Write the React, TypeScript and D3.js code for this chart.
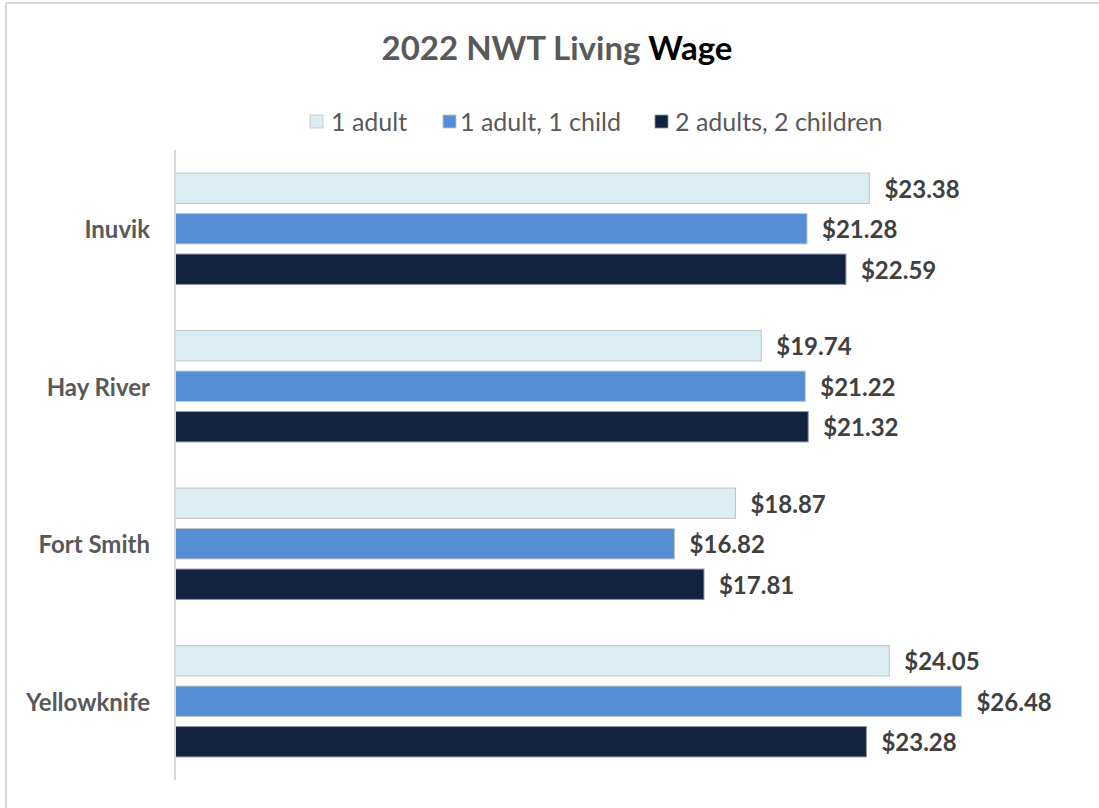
import React from "react";
import * as d3 from "d3";

const categories = ["Inuvik", "Hay River", "Fort Smith", "Yellowknife"];
const seriesNames = ["1 adult", "1 adult, 1 child", "2 adults, 2 children"];
const oneAdult = [23.38, 19.74, 18.87, 24.05];
const oneAdultOneChild = [21.28, 21.22, 16.82, 26.48];
const twoAdultsTwoChildren = [22.59, 21.32, 17.81, 23.28];
const seriesValues = [oneAdult, oneAdultOneChild, twoAdultsTwoChildren];
const colors = ["#daedf3", "#558ed5", "#12233f"];
const strokes = ["#c3c3c3", "#c3c3c3", "#8a93a3"];

const FONT = "Lato, 'Open Sans', sans-serif";

export default function App() {
  const W = 1099, H = 808;
  const y0 = d3.scaleBand<string>().domain(categories).range([150, 780]).paddingInner(0).paddingOuter(0);
  const y1 = d3.scaleBand<string>().domain(seriesNames).range([0, y0.bandwidth()]).paddingInner(0.25).paddingOuter(0.57);
  const x = d3.scaleLinear().domain([0, 30]).range([175, 1066]);

  const legendItems = [
    { sx: 310, tx: 331 },
    { sx: 443, tx: 460 },
    { sx: 655, tx: 675 },
  ];

  return (
    <svg width={W} height={H} style={{ position: "absolute", left: 0, top: 0 }} fontFamily={FONT}>
      <rect x={0} y={0} width={W} height={H} fill="#fff" />
      <rect x={6} y={3} width={W + 20} height={H + 20} fill="none" stroke="#d9d9d9" strokeWidth={2} />
      <text x={557} y={60} textAnchor="middle" fontSize={33} fontWeight="bold" fill="#595959">
        2022 NWT Living <tspan fill="#000">Wage</tspan>
      </text>
      {seriesNames.map((s, i) => (
        <g key={s}>
          <rect x={legendItems[i].sx} y={115} width={13} height={13} fill={colors[i]} stroke={strokes[i]} strokeWidth={0.8} />
          <text x={legendItems[i].tx} y={121} dominantBaseline="central" fontSize={25} fill="#595959">{s}</text>
        </g>
      ))}
      {categories.map((c, ci) => (
        <g key={c} transform={`translate(0,${y0(c)})`}>
          <text x={150} y={y0.bandwidth() / 2} textAnchor="end" dominantBaseline="central" fontSize={24} fontWeight="bold" fill="#595959">{c}</text>
          {seriesNames.map((s, si) => {
            const v = seriesValues[si][ci];
            const yy = y1(s)!;
            return (
              <g key={s}>
                <rect x={x(0)} y={yy} width={x(v) - x(0)} height={y1.bandwidth()} fill={colors[si]} stroke={strokes[si]} strokeWidth={1} />
                <text x={x(v) + 15} y={yy + y1.bandwidth() / 2} dominantBaseline="central" fontSize={24} fontWeight="bold" fill="#404040">{d3.format("$.2f")(v)}</text>
              </g>
            );
          })}
        </g>
      ))}
      <line x1={x(0)} x2={x(0)} y1={150} y2={780} stroke="#d9d9d9" strokeWidth={2} />
    </svg>
  );
}
